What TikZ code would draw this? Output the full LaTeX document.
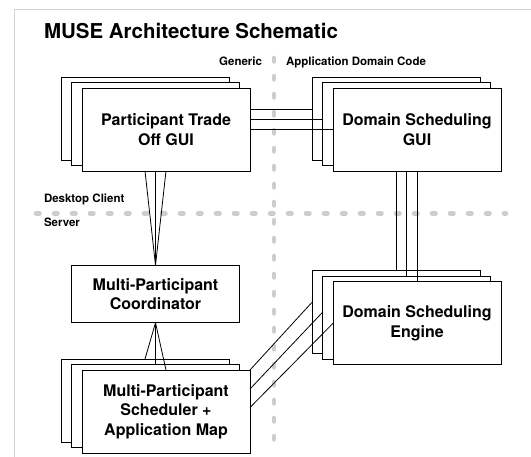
\documentclass[tikz,border=0pt]{standalone}
\usepackage{fontspec}
\setmainfont{TeX Gyre Heros}
\definecolor{divgray}{RGB}{205,205,205}
\definecolor{framegray}{RGB}{212,212,212}
\usetikzlibrary{
  positioning      % stacked layers placed relative to each other
}
\tikzset{
    on grid,  % node distance from the centers
    every node/.style = {
        inner sep = 0pt,
        outer sep = 0pt
    },
    stack/.style = {
        rectangle,
        draw,
        fill = white,
        line width = 0.9pt,
        minimum width = 168pt,
        minimum height = 83pt
    },
    solo/.style = {stack, minimum height = 57.5pt},
    boxtext/.style = {align = center, font = \fontsize{16}{19.5}\selectfont\bfseries},
    heading/.style = {anchor = base west, font = \fontsize{20.5}{24}\selectfont\bfseries},
    zone/.style = {font = \fontsize{11.5}{14}\selectfont\bfseries},
    divider/.style = {draw = divgray, line width = 4.5pt, line cap = round,
        dash pattern = on 3.5pt off 14.5pt},
    link/.style = {draw, line width = 0.8pt}
}

\begin{document}
\begin{tikzpicture}[x=1pt, y=-1pt]
  \useasboundingbox (0,0) rectangle (531,457);

  %% frame
  \draw [framegray, line width=1pt] (14,457) -- (14,10) -- (531,10);

  %% dividers
  \draw [divider] (274,58) -- (274,447);
  \draw [divider] (36,213.5) -- (506,213.5);

  %% labels
  \node [heading] (T) at (44,38.3) {MUSE Architecture Schematic};
  \node [zone, anchor=base east] (GEN) at (262,65.7) {Generic};
  \node [zone, anchor=base west] (ADC) at (286,65.7) {Application Domain Code};
  \node [zone, anchor=base west] (DC) at (44,202.7) {Desktop Client};
  \node [zone, anchor=base west] (SRV) at (44,226.7) {Server};

  %% Participant Trade Off GUI
  \node [stack] (PTOa) at (145,118.5) {};
  \node [stack, below right=5.5pt and 10.5pt of PTOa] (PTOb) {};
  \node [stack, boxtext, below right=5.5pt and 10.5pt of PTOb] (PTOc) {Participant Trade\\Off GUI};

  %% Domain Scheduling GUI
  \node [stack, right=251pt of PTOa] (DSGa) {};
  \node [stack, below right=5.5pt and 10.5pt of DSGa] (DSGb) {};
  \node [stack, boxtext, below right=5.5pt and 10.5pt of DSGb] (DSGc) {Domain Scheduling\\GUI};

  %% Domain Scheduling Engine
  \node [stack, below=193.8pt of DSGa] (DSEa) {};
  \node [stack, below right=5.5pt and 10.5pt of DSEa] (DSEb) {};
  \node [stack, boxtext, below right=5.5pt and 10.5pt of DSEb] (DSEc) {Domain Scheduling\\Engine};

  %% Multi-Participant Coordinator
  \node [solo, boxtext, below=170pt of PTOb] (MPC) {Multi-Participant\\Coordinator};

  %% Multi-Participant Scheduler
  \node [stack, below=282pt of PTOa] (MPSa) {};
  \node [stack, below right=5.5pt and 10.5pt of MPSa] (MPSb) {};
  \node [stack, boxtext, below right=5.5pt and 10.5pt of MPSb] (MPSc) {Multi-Participant\\Scheduler +\\Application Map};

  %% links
  \foreach \s/\l in {20.5/a, 10.25/b, 0/c}
    \draw [link] ([yshift=\s pt]PTOc.east) -- ([yshift=\s pt]PTOc.east -| DSG\l.west);

  \foreach \l in {a, b, c}
    \draw [link] (DSE\l.north) -- (DSE\l.north |- DSGc.south);

  \foreach \l in {a, b, c}
    \draw [link] (MPC.north) -- (PTO\l.south |- PTOc.south);

  \foreach \l in {a, b, c}
    \draw [link] (MPC.south) -- (MPS\l.north);

  \foreach \s/\t/\l in {0/10/a, -19/5.5/b, -37.5/0/c}
    \draw [link] ([yshift=\s pt]MPSc.north east) -- ([yshift=\t pt]DSE\l.west);

\end{tikzpicture}
\end{document}
